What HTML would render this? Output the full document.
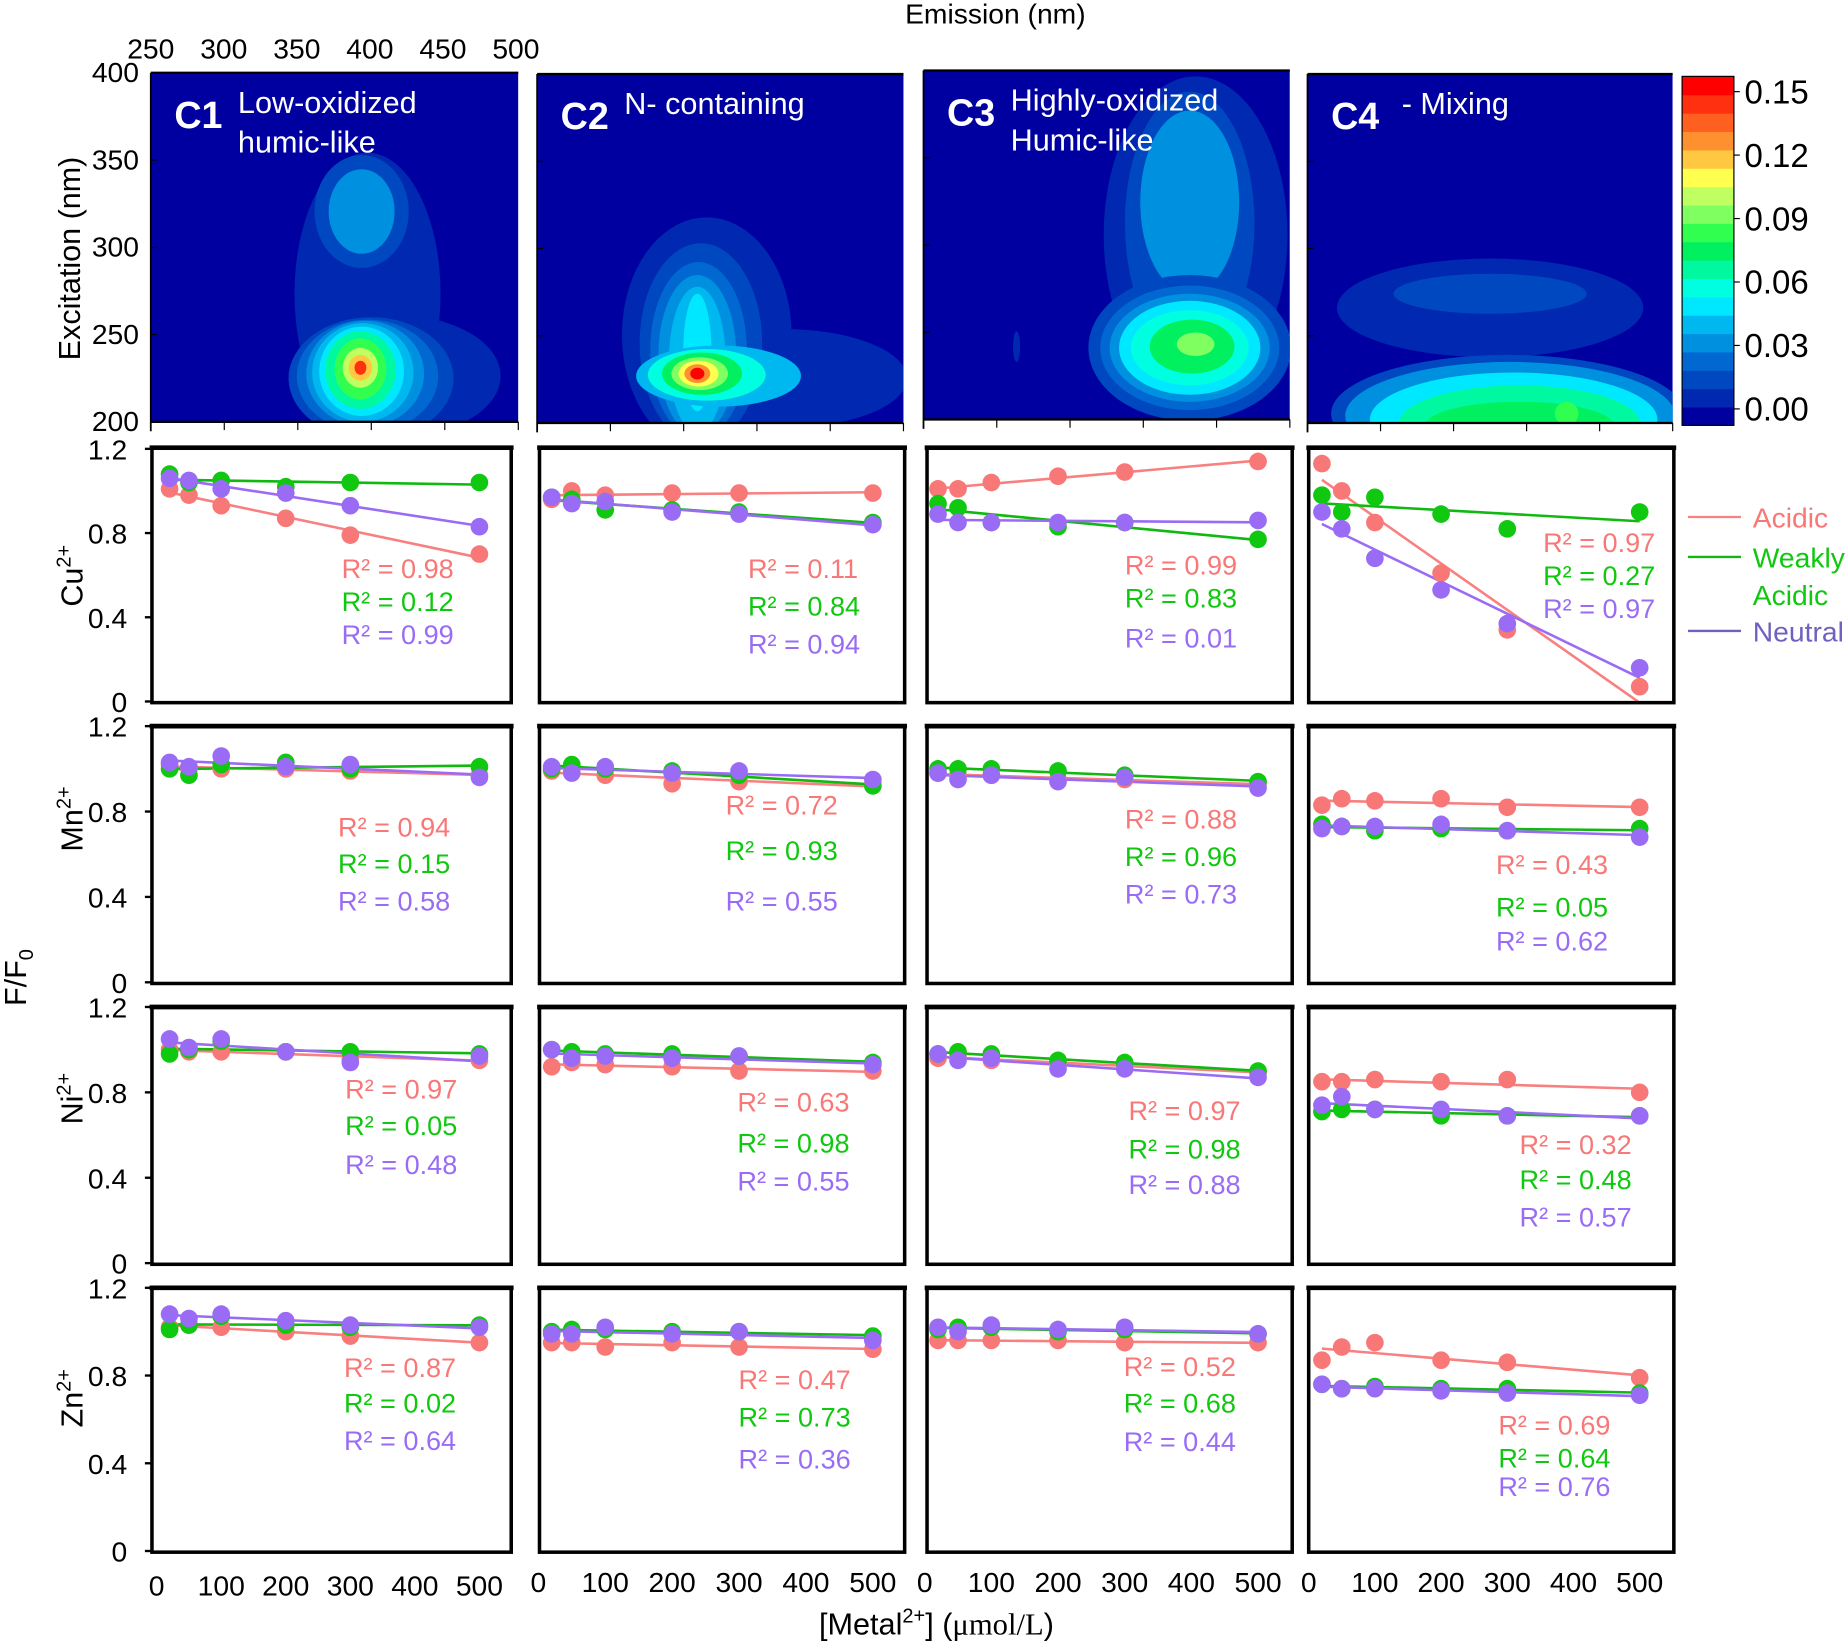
<!DOCTYPE html>
<html><head><meta charset="utf-8"><style>
html,body{margin:0;padding:0;background:#fff;}
svg{display:block;font-family:"Liberation Sans",Arial,sans-serif;}
</style></head><body>
<svg id="chart" width="1847" height="1645" viewBox="0 0 1568 1400" preserveAspectRatio="none" xmlns="http://www.w3.org/2000/svg">
<defs>
<clipPath id="cp1"><rect x="128" y="62" width="312" height="297"/></clipPath>
<clipPath id="cp2"><rect x="456" y="63" width="311" height="297"/></clipPath>
<clipPath id="cp3"><rect x="784" y="60" width="311" height="297"/></clipPath>
<clipPath id="cp4"><rect x="1110" y="63" width="310" height="297"/></clipPath>
</defs>
<g id="root"></g>
</svg>
<script>
// ---- data ----
const metalConc = [20, 50, 100, 200, 300, 500];
const xTicks = [0, 100, 200, 300, 400, 500];
const yTicks = [0, 0.4, 0.8, 1.2];
const metals = ["Cu", "Mn", "Ni", "Zn"];
const cuAcidic = [[1.01,0.98,0.93,0.87,0.79,0.70],[0.96,1.0,0.98,0.99,0.99,0.99],[1.01,1.01,1.04,1.07,1.09,1.14],[1.13,1.0,0.85,0.61,0.34,0.07]];
const cuWeakly = [[1.08,1.04,1.05,1.02,1.04,1.04],[0.97,0.96,0.91,0.91,0.90,0.85],[0.94,0.92,0.85,0.83,0.85,0.77],[0.98,0.90,0.97,0.89,0.82,0.90]];
const cuNeutral = [[1.06,1.05,1.01,0.99,0.93,0.83],[0.97,0.94,0.95,0.90,0.89,0.84],[0.89,0.85,0.85,0.85,0.85,0.86],[0.90,0.82,0.68,0.53,0.37,0.16]];
const mnAcidic = [[1.02,1.0,1.0,1.0,0.99,0.97],[0.99,0.99,0.97,0.93,0.94,0.93],[0.98,0.97,0.97,0.95,0.95,0.93],[0.83,0.86,0.85,0.86,0.82,0.82]];
const mnWeakly = [[1.0,0.97,1.02,1.03,1.0,1.01],[1.0,1.02,1.0,0.99,0.97,0.92],[1.0,1.0,1.0,0.99,0.97,0.94],[0.74,0.73,0.71,0.72,0.71,0.72]];
const mnNeutral = [[1.03,1.01,1.06,1.01,1.02,0.96],[1.01,0.98,1.01,0.98,0.99,0.95],[0.98,0.95,0.97,0.94,0.96,0.91],[0.72,0.73,0.73,0.74,0.71,0.68]];
const niAcidic = [[1.0,0.99,0.99,0.99,0.96,0.95],[0.92,0.94,0.93,0.92,0.90,0.90],[0.96,0.97,0.95,0.94,0.93,0.89],[0.85,0.85,0.86,0.85,0.86,0.80]];
const niWeakly = [[0.98,1.0,1.04,0.99,0.99,0.98],[1.0,0.99,0.98,0.98,0.97,0.94],[0.98,0.99,0.98,0.95,0.94,0.90],[0.71,0.72,0.72,0.69,0.69,0.69]];
const niNeutral = [[1.05,1.01,1.05,0.99,0.94,0.97],[1.0,0.96,0.97,0.96,0.97,0.93],[0.98,0.95,0.96,0.91,0.91,0.87],[0.74,0.78,0.72,0.72,0.69,0.69]];
const znAcidic = [[1.02,1.03,1.02,1.0,0.98,0.95],[0.95,0.95,0.93,0.95,0.93,0.92],[0.96,0.96,0.96,0.96,0.95,0.95],[0.87,0.93,0.95,0.87,0.86,0.79]];
const znWeakly = [[1.01,1.03,1.07,1.03,1.02,1.03],[1.0,1.01,1.01,1.0,1.0,0.98],[1.01,1.02,1.02,1.0,1.01,0.99],[0.76,0.74,0.75,0.74,0.74,0.72]];
const znNeutral = [[1.08,1.06,1.08,1.05,1.03,1.02],[0.99,0.99,1.02,0.99,1.0,0.96],[1.02,1.0,1.03,1.01,1.02,0.99],[0.76,0.74,0.74,0.73,0.72,0.71]];
const r2Acidic = [["0.98","0.11","0.99","0.97"],["0.94","0.72","0.88","0.43"],["0.97","0.63","0.97","0.32"],["0.87","0.47","0.52","0.69"]];
const r2Weakly = [["0.12","0.84","0.83","0.27"],["0.15","0.93","0.96","0.05"],["0.05","0.98","0.98","0.48"],["0.02","0.73","0.68","0.64"]];
const r2Neutral = [["0.99","0.94","0.01","0.97"],["0.58","0.55","0.73","0.62"],["0.48","0.55","0.88","0.57"],["0.64","0.36","0.44","0.76"]];
const colorbarTicks = [0.00, 0.03, 0.06, 0.09, 0.12, 0.15];
const emissionTicks = [250, 300, 350, 400, 450, 500];
const excitationTicks = [200, 250, 300, 350, 400];

// ---- layout ----
const NS = "http://www.w3.org/2000/svg";
const root = document.getElementById('root');
function mk(tag, attrs, parent) {
  const e = document.createElementNS(NS, tag);
  for (const k in attrs) e.setAttribute(k, attrs[k]);
  (parent || root).appendChild(e);
  return e;
}
function txt(s, attrs, parent) { const e = mk('text', attrs, parent); e.textContent = s; return e; }
const cAcid = "#f87878", cWeak = "#10c810", cNeut = "#9a6cf6";
const lineAcid = "#f88080", lineWeak = "#10b810", lineNeut = "#9a6cf6";
const colX0 = [133, 457, 785, 1111], colX1 = [407, 741, 1068, 1392];
const frameL = [129, 458, 787, 1111], frameR = [434, 768, 1097, 1421];
const rowY0 = [597, 836, 1075, 1320], rowY12 = [382, 618, 857, 1096];
const frameT = [381, 618, 857, 1096];

// ---- contour maps ----
const levelColors = ["#0000a0","#0028b0","#0048c0","#0068d0","#0090e0","#00b8f0","#00e8ff","#00ffe0","#00f8a0","#00f060","#30ff50","#80ff60","#c0ff60","#ffff50","#ffc840","#ff9030","#ff6020","#ff3010","#ff0000"];
const compPanels = [[128,62,312,297],[456,63,311,297],[784,60,311,297],[1110,63,310,297]];
const compBlobs = [
 [[312,250,62,120,1],[335,320,90,52,1],[307,180,40,48,2],[307,180,28,36,4],[315,322,70,52,2],[312,320,60,48,3],[310,318,50,45,4],[308,317,43,42,5],[307,316,36,38,6],[306,315,30,33,8],[306,314,22,26,10],[306,313,15,17,12],[306,313,10,11,14],[306,313,5,6,17]],
 [[600,285,72,100,1],[665,322,105,42,1],[595,292,52,85,2],[593,298,41,75,3],[592,302,33,68,4],[592,306,24,62,5],[592,300,12,50,6],[610,320,70,26,5],[600,319,50,22,7],[596,318,34,18,9],[594,318,24,14,11],[593,318,17,11,13],[592,318,11,8,15],[592,318,6,5,18]],
 [[1015,200,78,135,1],[1010,190,55,112,2],[1010,172,42,78,4],[1010,296,86,62,2],[1010,296,76,53,3],[1010,296,68,46,4],[1010,296,60,40,6],[1010,296,50,32,7],[1012,295,36,23,9],[1015,293,16,10,11],[863,295,3,13,1]],
 [[1265,262,130,42,1],[1265,250,82,17,2],[1280,352,150,50,2],[1282,354,140,46,4],[1285,357,122,40,6],[1290,360,102,32,8],[1290,362,80,20,9],[1330,352,10,10,10]]
];
const compLabels = [["C1","Low-oxidized","humic-like"],["C2","N- containing",""],["C3","Highly-oxidized","Humic-like"],["C4","- Mixing",""]];
for (let i = 0; i < 4; i++) {
  const [px,py,pw,ph] = compPanels[i];
  const g = mk('g', {'clip-path':`url(#cp${i+1})`});
  
  
  mk('rect', {x:px,y:py,width:pw,height:ph,fill:levelColors[0]}, g);
  compBlobs[i].forEach((b, j) => {
    const e = mk('ellipse', {cx:b[0],cy:b[1],rx:b[2],ry:b[3],fill:levelColors[b[4]]}, g);
    
    
  });
  mk('line', {x1:px,y1:py,x2:px+pw,y2:py,stroke:'#000','stroke-width':2});
  mk('line', {x1:px,y1:py+ph,x2:px+pw,y2:py+ph,stroke:'#000','stroke-width':2});
  mk('line', {x1:px,y1:py,x2:px,y2:py+ph+8,stroke:'#000','stroke-width':1.5});
  for (let k = 0; k < 6; k++) {
    const tx = px + pw*k/5;
    mk('line', {x1:tx,y1:py+ph,x2:tx,y2:py+ph+7,stroke:'#000','stroke-width':1});
  }
  for (let k = 0; k < 5; k++) {
    const ty = py + ph*k/4;
    mk('line', {x1:px,y1:ty,x2:px+5,y2:ty,stroke:'#000','stroke-width':1});
  }
  const lab = compLabels[i];
  const t = txt(lab[0], {x:px+20,y:py+47,'font-size':32,'font-weight':'bold',fill:'#fff'});
  
  
  const dx = i === 3 ? 80 : 74;
  const t2 = txt(lab[1], {x:px+dx,y:py+34,'font-size':26,fill:'#fff'});
  
  
  if (lab[2]) txt(lab[2], {x:px+dx,y:py+68,'font-size':26,fill:'#fff'});
}
// emission / excitation ticks
emissionTicks.forEach((v, k) => {
  const t = txt(String(v), {x:128+(v-250)/250*310,y:50,'font-size':24,'text-anchor':'middle'});
  
  
});
excitationTicks.forEach(v => {
  const t = txt(String(v), {x:118,y:359-(v-200)/200*297+8,'font-size':24,'text-anchor':'end'});
  
  
});
let e = txt('Emission (nm)', {x:845,y:20,'font-size':24,'text-anchor':'middle'});
 
e = txt('Excitation (nm)', {x:0,y:0,'font-size':26,'text-anchor':'middle',transform:'translate(68,220) rotate(-90)'});
 

// colorbar
const cbG = mk('g', {});


const cbTop = 65, cbBot = 362, nb = levelColors.length;
for (let k = 0; k < nb; k++) {
  const h = (cbBot-cbTop)/nb;
  mk('rect', {x:1428,y:cbBot-(k+1)*h,width:44,height:h+0.5,fill:levelColors[k]}, cbG);
}
mk('rect', {x:1428,y:cbTop,width:44,height:cbBot-cbTop,fill:'none',stroke:'#000','stroke-width':1}, cbG);
colorbarTicks.forEach(v => {
  const y = 348 - v/0.15*270;
  mk('line', {x1:1472,y1:y,x2:1477,y2:y,stroke:'#000'}, cbG);
  const t = txt(v.toFixed(2), {x:1481,y:y+10,'font-size':28}, cbG);
  
  
});

// ---- scatter panels ----
const allAcid = [cuAcidic, mnAcidic, niAcidic, znAcidic];
const allWeak = [cuWeakly, mnWeakly, niWeakly, znWeakly];
const allNeut = [cuNeutral, mnNeutral, niNeutral, znNeutral];
const r2Pos = [
 [[290,492,520,548],[635,492,524,556],[955,489,517,551],[1310,470,498,526]],
 [[287,712,743,775],[616,693,732,775],[955,705,737,769],[1270,744,780,809]],
 [[293,935,966,999],[626,946,981,1013],[958,953,986,1016],[1290,982,1012,1044]],
 [[292,1172,1202,1234],[627,1182,1214,1250],[954,1171,1202,1235],[1272,1221,1249,1273]]
];
function fit(xs, ys) {
  const n = xs.length; let sx=0,sy=0,sxx=0,sxy=0;
  for (let i=0;i<n;i++){sx+=xs[i];sy+=ys[i];sxx+=xs[i]*xs[i];sxy+=xs[i]*ys[i];}
  const b=(n*sxy-sx*sy)/(n*sxx-sx*sx); return [b,(sy-b*sx)/n];
}
for (let r = 0; r < 4; r++) {
  const yS = v => rowY0[r] - v/1.2*(rowY0[r]-rowY12[r]);
  for (let c = 0; c < 4; c++) {
    const xS = v => colX0[c] + v/500*(colX1[c]-colX0[c]);
    const g = mk('g', {});
    
    
    const series = [[allAcid[r][c],cAcid,lineAcid,'acidic'],[allWeak[r][c],cWeak,lineWeak,'weakly-acidic'],[allNeut[r][c],cNeut,lineNeut,'neutral']];
    series.forEach(([ys,col,lc,nm]) => {
      const [b,a] = fit(metalConc, ys);
      let xe = 500, ye = a+b*500;
      if (ye < 0) { xe = -a/b; ye = 0; }
      const ln = mk('line', {x1:xS(20),y1:yS(a+b*20),x2:xS(xe),y2:yS(ye),stroke:lc,'stroke-width':2.2}, g);
      
      
    });
    series.forEach(([ys,col,lc,nm]) => {
      ys.forEach((v,i) => {
        const p = mk('circle', {cx:xS(metalConc[i]),cy:yS(v),r:7.5,fill:col}, g);
        
        
      });
    });
    const fr = mk('rect', {x:frameL[c],y:frameT[r],width:frameR[c]-frameL[c],height:rowY0[r]-frameT[r]+1,fill:'none',stroke:'#000','stroke-width':3}, g);
    
    
    mk('line', {x1:frameL[c]-2,y1:frameT[r],x2:frameR[c]+2,y2:frameT[r],stroke:'#000','stroke-width':4}, g);
    const pos = r2Pos[r][c];
    [[r2Acidic[r][c],cAcid,1],[r2Weakly[r][c],cWeak,2],[r2Neutral[r][c],cNeut,3]].forEach(([s,col,k]) => {
      const t = txt('R² = ' + s, {x:pos[0],y:pos[k],'font-size':23,fill:col}, g);
      
      
    });
    if (r === 3) {
      xTicks.forEach(v => {
        const t = txt(String(v), {x:xS(v),y:(c===0?1358:1355),'font-size':24,'text-anchor':'middle'});
        
        
      });
    }
  }
  yTicks.forEach(v => {
    mk('line', {x1:123,y1:yS(v),x2:129,y2:yS(v),stroke:'#000','stroke-width':2});
    const t = txt(v === 0 ? '0' : v.toFixed(1), {x:108,y:yS(v)+9,'font-size':24,'text-anchor':'end'});
    
    
  });
}
// row labels
const rowLabelY = [490, 697, 935, 1190];
metals.forEach((m, r) => {
  const t = mk('text', {x:0,y:0,'font-size':26,'text-anchor':'middle',transform:`translate(70,${rowLabelY[r]}) rotate(-90)`});
  t.innerHTML = `${m}<tspan font-size="17" dy="-10">2+</tspan>`;
  
  
});
e = mk('text', {x:0,y:0,'font-size':26,'text-anchor':'middle',transform:'translate(22,832) rotate(-90)'});
e.innerHTML = 'F/F<tspan font-size="17" dy="6">0</tspan>';
 
e = mk('text', {x:795,y:1391,'font-size':26,'text-anchor':'middle'});
e.innerHTML = '[Metal<tspan font-size="17" dy="-10">2+</tspan><tspan dy="10">]  (</tspan><tspan font-family="Liberation Serif, serif">μmol/L</tspan>)';
 

// legend
const legend = mk('g', {});


[[440,['Acidic'],lineAcid,cAcid],[474,['Weakly','Acidic'],lineWeak,cWeak],[537,['Neutral'],'#7060c0','#7060c0']].forEach(([y,labs,lc,tc]) => {
  const ln = mk('line', {x1:1433,y1:y,x2:1478,y2:y,stroke:lc,'stroke-width':2}, legend);
  
  
  labs.forEach((s,k) => {
    const t = txt(s, {x:1488,y:y+9+k*32,'font-size':24,fill:tc}, legend);
    
    
  });
});
</script>
</body></html>
